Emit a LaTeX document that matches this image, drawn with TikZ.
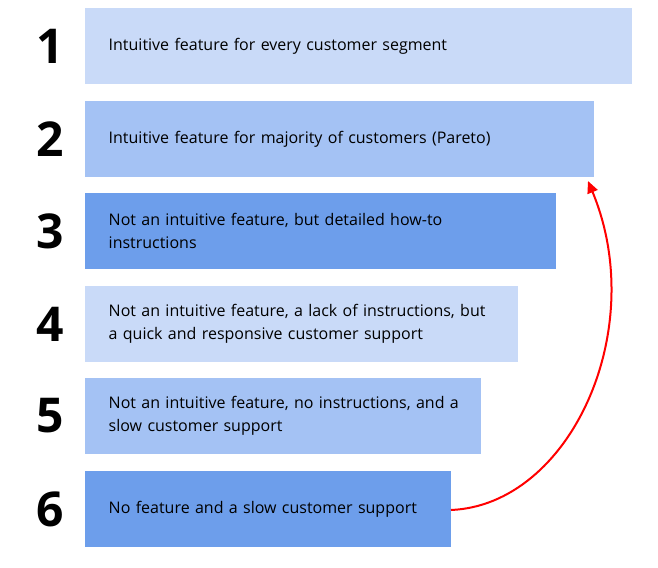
\documentclass[tikz,border=0pt]{standalone}
\usepackage{fontspec}
\setmainfont{Open Sans}
\usetikzlibrary{arrows.meta}
\definecolor{cA}{HTML}{C9DAF8}
\definecolor{cB}{HTML}{A4C2F4}
\definecolor{cC}{HTML}{6D9EEB}
\begin{document}
\begin{tikzpicture}[x=0.75pt,y=-0.75pt,
  bar/.style={draw=none,anchor=north west,minimum height=57pt,inner sep=0pt,text width=#1,align=left},
  num/.style={font=\fontsize{36}{36}\selectfont\bfseries},
  txt/.style={anchor=west,text width=290pt,align=left,font=\fontsize{12}{17}\selectfont}]
\useasboundingbox (0,0) rectangle (658,568);
\fill[cA] (85,8) rectangle (632,84);
\fill[cB] (85,101) rectangle (594,177);
\fill[cC] (85,193) rectangle (556,269);
\fill[cA] (85,286) rectangle (518,362);
\fill[cB] (85,378) rectangle (481,454);
\fill[cC] (85,471) rectangle (451,547);
\node[num] (n1) at (50,46) {1};
\node[num] (n2) at (50,139) {2};
\node[num] (n3) at (50,231) {3};
\node[num] (n4) at (50,324) {4};
\node[num] (n5) at (50,416) {5};
\node[num] (n6) at (50,509) {6};
\node[txt] (t1) at (104,46) {Intuitive feature for every customer segment};
\node[txt] (t2) at (104,139) {Intuitive feature for majority of customers (Pareto)};
\node[txt] (t3) at (104,231) {Not an intuitive feature, but detailed how-to\\instructions};
\node[txt] (t4) at (104,324) {Not an intuitive feature, a lack of instructions, but\\a quick and responsive customer support};
\node[txt] (t5) at (104,416) {Not an intuitive feature, no instructions, and a\\slow customer support};
\node[txt] (t6) at (104,509) {No feature and a slow customer support};
\coordinate (s) at (451,510);
\coordinate (e) at (588,181);
\draw[red,line width=1.5pt,-{Triangle[length=9pt,width=8pt]}] (s) .. controls (570,505) and (650,330) .. (e);
\end{tikzpicture}
\end{document}
